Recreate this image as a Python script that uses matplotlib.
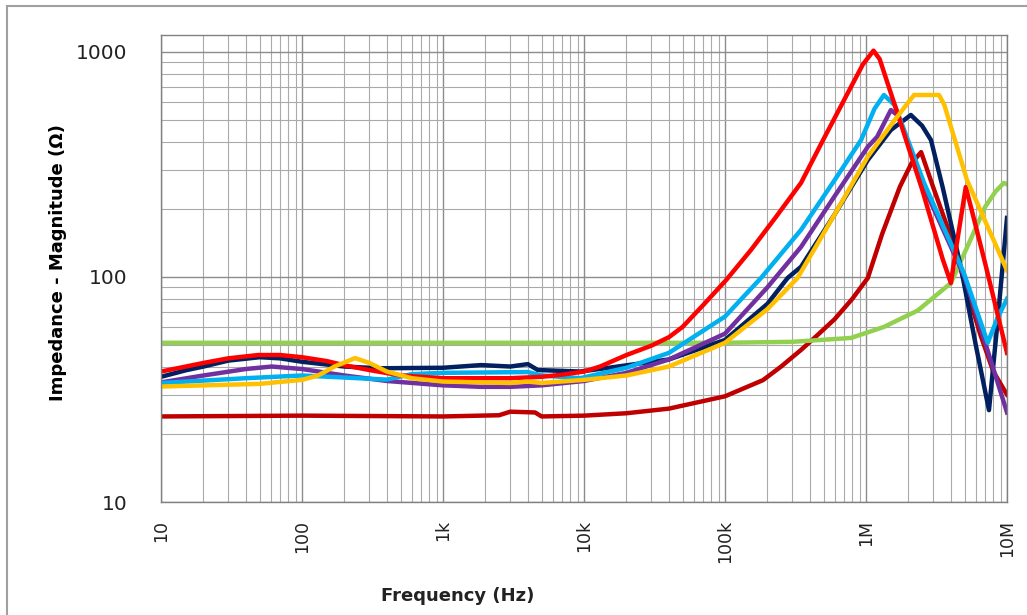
import matplotlib
matplotlib.use("Agg")
import matplotlib.pyplot as plt
import matplotlib.ticker as mticker
from matplotlib.patches import Rectangle

# impedance curves (freq in Hz, |Z| in ohm)
f_green = [10, 1e3, 1e5, 3e5, 7.83e5, 1.34e6, 2.33e6, 4e6, 5e6, 6e6, 7e6, 8.3e6, 9.5e6, 1e7]
z_green = [51, 51, 51, 51.5, 53.6, 60, 71, 94, 128, 165, 205, 240, 262, 258]

f_darkred = [10, 100, 1e3, 2.5e3, 3e3, 4.5e3, 5e3, 1e4, 2e4, 4e4, 1e5, 1.86e5, 2.5e5, 3.46e5,
             4.5e5, 6e5, 8e5, 1.03e6, 1.3e6, 1.74e6, 2.1e6, 2.46e6, 3e6, 4e6, 5e6, 6.5e6,
             8e6, 1e7]
z_darkred = [24, 24.2, 24, 24.3, 25.2, 25, 24, 24.2, 24.8, 26, 29.5, 34.8, 40, 47.4,
             55, 65, 80, 99, 155, 252, 320, 359, 250, 151, 95, 55,
             38, 30]

f_navy = [10, 15, 20, 30, 50, 70, 100, 200, 357, 1e3, 1.86e3, 3e3, 4e3, 4.7e3, 9.4e3,
          1.5e4, 2e4, 4e4, 1e5, 2e5, 2.78e5, 3.46e5, 6e5, 1.03e6, 1.5e6, 2.08e6, 2.5e6,
          2.89e6, 3.5e6, 4.7e6, 6e6, 7.45e6, 8.5e6, 1e7]
z_navy = [36, 38.5, 40, 42.5, 44, 43.5, 42, 40, 39.3, 39.5, 40.6, 40, 41, 38.6, 38,
          39.5, 40.5, 43, 52.5, 76, 99, 111, 190, 331, 450, 525, 470,
          406, 250, 111, 50, 25.6, 60, 183]

f_purple = [10, 20, 40, 61, 100, 200, 400, 1e3, 1.86e3, 3e3, 5e3, 1e4, 2e4, 4e4, 1e5, 2e5,
            3.46e5, 6e5, 1.03e6, 1.2e6, 1.5e6, 1.7e6, 2.58e6, 5e6, 7.3e6, 1e7]
z_purple = [34, 36.5, 39, 40, 39, 36.5, 34.5, 33, 32.5, 32.5, 33, 34.5, 37.5, 43, 56, 90,
            136, 229, 379, 420, 552, 520, 250, 100, 47, 25]

f_cyan = [10, 40, 100, 250, 400, 600, 1e3, 4e3, 5e3, 9.4e3, 2e4, 4e4, 1e5, 1.8e5, 3.46e5,
          6e5, 9.22e5, 1.15e6, 1.34e6, 1.6e6, 2.58e6, 4.95e6, 7.3e6, 8.5e6, 1e7]
z_cyan = [33.8, 35.5, 36.5, 35.5, 35, 37, 37.5, 37.8, 36.5, 35.5, 39.5, 46, 66.7, 99, 162,
          270, 406, 560, 644, 580, 262, 104, 51, 65, 80]

f_red = [10, 15, 20, 30, 48.8, 70, 100, 150, 200, 300, 500, 1e3, 3e3, 5e3, 7e3, 1e4, 1.3e4,
         2e4, 3e4, 4e4, 5e4, 7e4, 1.02e5, 1.53e5, 2.3e5, 3.46e5, 5e5, 7.83e5, 9.5e5,
         1.13e6, 1.25e6, 1.67e6, 2.5e6, 3.5e6, 4e6, 4.4e6, 5.1e6, 5.6e6, 7e6, 1e7]
z_red = [38, 40, 41.5, 43.5, 45, 45, 44, 42.3, 40.5, 38.6, 36.5, 35.5, 35.5, 36, 36.8, 38, 40,
         45, 49.5, 54, 60, 75, 97, 132, 185, 262, 410, 700, 880,
         1014, 930, 535, 245, 120, 94, 140, 251, 200, 115, 46]

f_yellow = [10, 50, 100, 130, 170, 238, 300, 400, 600, 1e3, 3e3, 4e3, 5e3, 1e4, 2e4, 4e4,
            1e5, 2e5, 3.27e5, 6e5, 1.03e6, 1.6e6, 2.19e6, 3.3e6, 3.6e6, 5.2e6, 1e7]
z_yellow = [32.6, 33.5, 34.9, 36.5, 40, 43.6, 41.5, 38, 35.5, 34.3, 33.8, 34.3, 33.8, 34.9,
            36.5, 40, 51, 72, 99, 190, 343, 499, 644, 644, 580, 270, 107]

x_ticks = [10, 100, 1e3, 1e4, 1e5, 1e6, 1e7]
x_labels = ["10", "100", "1k", "10k", "100k", "1M", "10M"]
y_ticks = [10, 100, 1000]
y_labels = ["10", "100", "1000"]

fig = plt.figure(figsize=(10.27, 6.15), dpi=100)
ax = fig.add_axes([161 / 1027, 1 - 502 / 615, (1007 - 161) / 1027, (502 - 35) / 615])

lw = 3.2
ax.plot(f_darkred, z_darkred, color="#C00000", lw=lw)
ax.plot(f_green, z_green, color="#92D050", lw=lw)
ax.plot(f_navy, z_navy, color="#002060", lw=lw)
ax.plot(f_purple, z_purple, color="#7030A0", lw=lw)
ax.plot(f_cyan, z_cyan, color="#00B0F0", lw=lw)
ax.plot(f_red, z_red, color="#FF0000", lw=lw)
ax.plot(f_yellow, z_yellow, color="#FFC000", lw=lw)

ax.set_xscale("log")
ax.set_yscale("log")
ax.set_xlim(10, 1e7)
ax.set_ylim(10, 1190)

ax.xaxis.set_major_locator(mticker.FixedLocator(x_ticks))
ax.xaxis.set_major_formatter(mticker.FixedFormatter(x_labels))
ax.yaxis.set_major_locator(mticker.FixedLocator(y_ticks))
ax.yaxis.set_major_formatter(mticker.FixedFormatter(y_labels))
ax.xaxis.set_minor_locator(mticker.LogLocator(base=10, subs=range(2, 10), numticks=20))
ax.yaxis.set_minor_locator(mticker.LogLocator(base=10, subs=range(2, 10), numticks=20))
ax.xaxis.set_minor_formatter(mticker.NullFormatter())
ax.yaxis.set_minor_formatter(mticker.NullFormatter())

ax.grid(which="major", color="#8c8c8c", lw=1.0)
ax.grid(which="minor", color="#aaaaaa", lw=0.8)
ax.set_axisbelow(True)
for s in ax.spines.values():
    s.set_color("#808080")
    s.set_linewidth(1.0)

ax.tick_params(axis="both", which="both", length=0)
ax.tick_params(axis="y", pad=24, labelsize=14.5, labelcolor="#222222")
ax.tick_params(axis="x", pad=13, labelsize=12.5, labelrotation=90, labelcolor="#222222")

fig.text(58 / 1027, 1 - 263 / 615, "Impedance - Magnitude (Ω)", fontsize=13, fontweight="bold",
         rotation=90, ha="center", va="center")
fig.text(458 / 1027, 1 - 596 / 615, "Frequency (Hz)", fontsize=13, fontweight="bold",
         ha="center", va="center", color="#222222")

# outer chart border (Excel chart area)
fig.patches.append(Rectangle((7 / 1027, -0.05), 1.1, 1.05 - 6 / 615, transform=fig.transFigure,
                             fill=False, edgecolor="#a0a0a0", lw=1.5, clip_on=False))

fig.savefig("out.png", dpi=100)
